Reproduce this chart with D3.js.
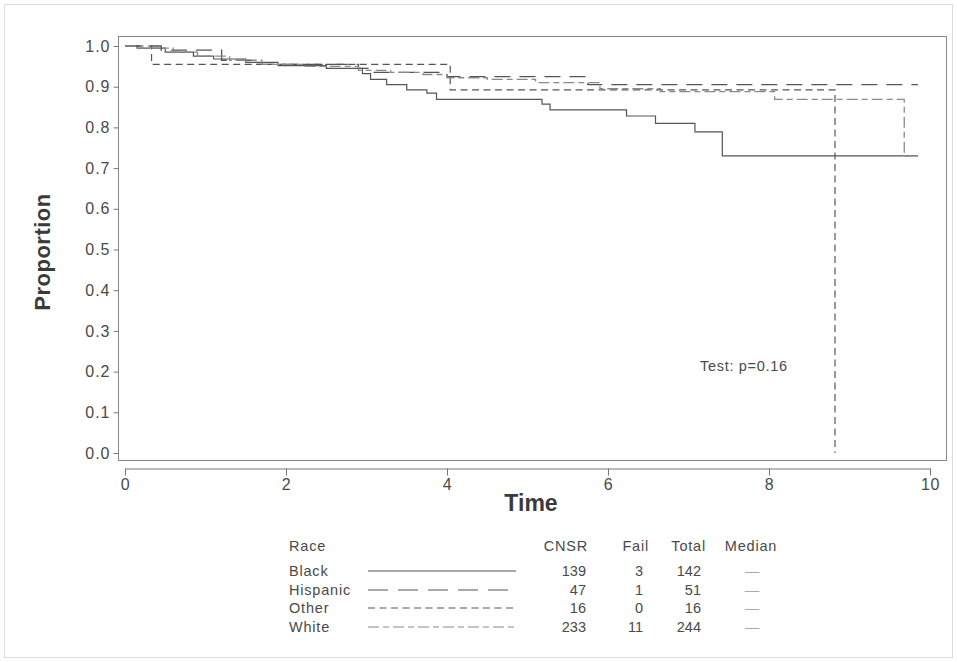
<!DOCTYPE html>
<html><head><meta charset="utf-8">
<script src="https://cdn.jsdelivr.net/npm/d3@7"></script>
<style>body{margin:0;background:#fff;}svg{display:block;font-family:"Liberation Sans",Arial,sans-serif;}</style>
</head><body><svg id="c" width="957" height="662"></svg>
<script>
// ---- data ----
const races = ["Black", "Hispanic", "Other", "White"];
const cnsr = [139, 47, 16, 233];
const fail = [3, 1, 0, 11];
const total = [142, 51, 16, 244];
const median = ["—", "—", "—", "—"];
// step survival curves: [time, proportion] at each change, plus end time
const blackCurve = [[0,1],[0.15,0.995],[0.5,0.985],[0.85,0.975],[1.1,0.968],[1.5,0.96],[1.9,0.952],[2.5,0.945],[2.95,0.932],[3.05,0.918],[3.25,0.905],[3.5,0.892],[3.75,0.884],[3.87,0.869],[5.18,0.857],[5.28,0.843],[6.23,0.828],[6.59,0.81],[7.08,0.789],[7.42,0.73],[9.85,0.73]];
const hispanicCurve = [[0,1],[0.45,0.99],[1.2,0.965],[1.6,0.955],[2.9,0.945],[3.05,0.935],[4.0,0.925],[5.75,0.905],[9.85,0.905]];
const otherCurve = [[0,1],[0.33,0.955],[4.04,0.892],[8.82,0.0],[8.82,0.0]];
const whiteCurve = [[0,1],[0.2,0.995],[0.6,0.985],[0.9,0.975],[1.3,0.965],[1.7,0.955],[2.2,0.95],[2.9,0.94],[3.3,0.935],[3.7,0.93],[4.0,0.922],[4.5,0.918],[5.1,0.91],[5.9,0.895],[6.65,0.888],[8.07,0.869],[9.68,0.73],[9.85,0.73]];
const yTicks = [0,0.1,0.2,0.3,0.4,0.5,0.6,0.7,0.8,0.9,1.0];
const xTicks = [0,2,4,6,8,10];
const testText = "Test: p=0.16";

// ---- layout ----
const svg = d3.select("#c");
const frame = {l:118, t:36, r:946, b:460};
const x = d3.scaleLinear().domain([0,10]).range([125,930]);
const y = d3.scaleLinear().domain([0,1]).range([453,46]);
const text = "#4a4a4a";

// faint scan border
svg.append("rect").attr("x",4.5).attr("y",4.5).attr("width",948).attr("height",653)
  .attr("fill","none").attr("stroke","#ddd");

// plot frame
svg.append("rect").attr("x",frame.l+0.5).attr("y",frame.t+0.5)
  .attr("width",frame.r-frame.l).attr("height",frame.b-frame.t)
  .attr("fill","none").attr("stroke","#888");

// y axis (ticks outward on frame left)
const yAxisG = svg.append("g").attr("transform",`translate(${frame.l+0.5},0)`);
yAxisG.call(d3.axisLeft(y).tickValues(d3.range(0,1.0001,0.02)).tickSize(3).tickFormat(""))
  .call(g=>g.select(".domain").remove());
yAxisG.call(d3.axisLeft(y).tickValues(yTicks).tickSize(5).tickFormat(d3.format(".1f")).tickPadding(3))
  .call(g=>g.select(".domain").remove());
yAxisG.selectAll("line").attr("stroke","#777");
yAxisG.selectAll("text").attr("fill",text).style("font-size","16px").style("letter-spacing","1px");

// x axis (separate line below frame)
const xAxisY = 468.5;
const xAxisG = svg.append("g").attr("transform",`translate(0,${xAxisY})`);
xAxisG.call(d3.axisBottom(x).tickValues(d3.range(0,10.0001,0.2)).tickSize(4).tickFormat("").tickSizeOuter(0));
xAxisG.call(d3.axisBottom(x).tickValues(xTicks).tickSize(7).tickFormat(d3.format("d")).tickPadding(3).tickSizeOuter(0));
xAxisG.selectAll("line,path").attr("stroke","#777");
xAxisG.selectAll("text").attr("fill",text).style("font-size","16px").style("letter-spacing","0.5px");

// axis titles
svg.append("text").attr("x",531).attr("y",511).attr("text-anchor","middle")
  .attr("fill","#3a3a3a").style("font-size","23px").style("font-weight","bold").text("Time");
svg.append("text").attr("transform","translate(50,252) rotate(-90)").attr("text-anchor","middle")
  .attr("fill","#3a3a3a").style("font-size","22px").style("font-weight","bold").style("letter-spacing","0.5px").text("Proportion");

// curves
const styles = [
  {data:blackCurve, dash:null, color:"#555", w:1.2},
  {data:hispanicCurve, dash:"16,9", color:"#555", w:1.3},
  {data:otherCurve, dash:"7,4.5", color:"#555", w:1.2},
  {data:whiteCurve, dash:"11,4,6,4", color:"#8a8a8a", w:1.3}
];
const line = d3.line().x(d=>x(d[0])).y(d=>y(d[1])).curve(d3.curveStepAfter);
styles.forEach(s=>{
  svg.append("path").datum(s.data).attr("d",line).attr("fill","none")
    .attr("stroke",s.color).attr("stroke-width",s.w)
    .attr("stroke-dasharray",s.dash);
});

svg.append("text").attr("x",700).attr("y",371).attr("fill",text)
  .style("font-size","14.5px").style("letter-spacing","0.7px").text(testText);

// legend table
const lg = svg.append("g").style("font-size","14.5px").attr("fill",text);
const word = sel => sel.style("letter-spacing","0.8px");
const rowY = [576, 595, 613, 632];
word(lg.append("text").attr("x",289).attr("y",551).text("Race"));
word(lg.append("text").attr("x",588).attr("y",551).attr("text-anchor","end").text("CNSR"));
word(lg.append("text").attr("x",649).attr("y",551).attr("text-anchor","end").text("Fail"));
word(lg.append("text").attr("x",706).attr("y",551).attr("text-anchor","end").text("Total"));
word(lg.append("text").attr("x",751).attr("y",551).attr("text-anchor","middle").text("Median"));
races.forEach((r,i)=>{
  const yy = rowY[i];
  word(lg.append("text").attr("x",289).attr("y",yy).text(r));
  svg.append("line").attr("x1",368).attr("x2",516).attr("y1",yy-5).attr("y2",yy-5)
    .attr("stroke",styles[i].color).attr("stroke-width",1.2)
    .attr("stroke-dasharray", i===1 ? "20,10" : styles[i].dash);
  lg.append("text").attr("x",586).attr("y",yy).attr("text-anchor","end").text(cnsr[i]);
  lg.append("text").attr("x",643).attr("y",yy).attr("text-anchor","end").text(fail[i]);
  lg.append("text").attr("x",701).attr("y",yy).attr("text-anchor","end").text(total[i]);
  lg.append("text").attr("x",752).attr("y",yy).attr("text-anchor","middle").attr("fill","#aaa").text(median[i]);
});
</script></body></html>
